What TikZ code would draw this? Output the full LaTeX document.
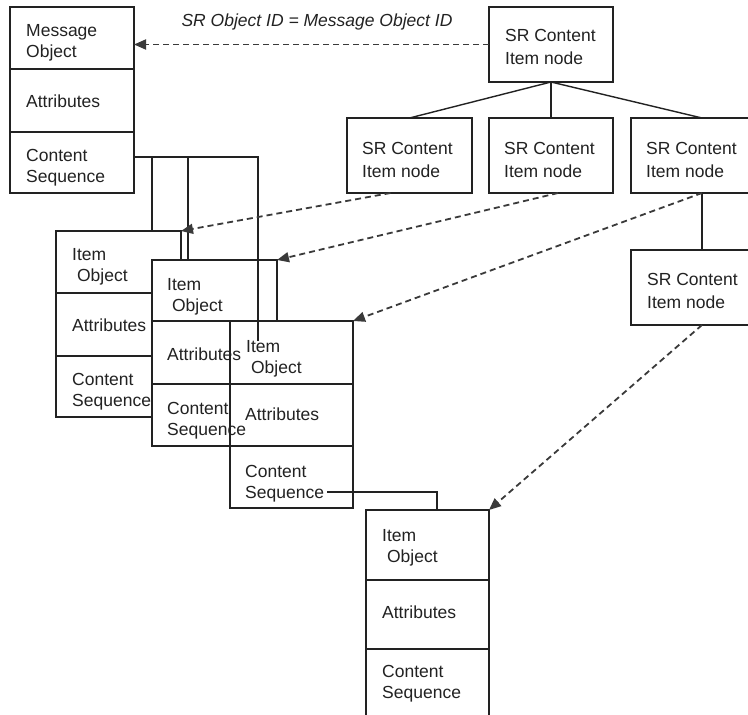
\documentclass[tikz,border=0pt]{standalone}
\usepackage{fontspec}
\setmainfont{Liberation Sans}
\usetikzlibrary{arrows.meta,calc}
\definecolor{ln}{HTML}{222222}
\definecolor{dl}{HTML}{3a3a3a}
\newcommand{\cellbox}[5]{\node[cell, minimum width=#4pt, minimum height=#5pt] (#1) at (#2,#3) {};}
\begin{document}
\begin{tikzpicture}[x=1pt,y=-1pt,
  cell/.style={draw=ln, fill=white, line width=1.4pt, inner sep=0pt, outer sep=0pt, anchor=north west},
  txt/.style={anchor=west, align=left, inner sep=0pt, text=ln, font=\fontsize{17.5}{21}\selectfont},
  srtxt/.style={anchor=west, align=left, inner sep=0pt, text=ln, font=\fontsize{17.5}{23.5}\selectfont},
  conn/.style={draw=ln, line width=1.4pt},
  treeline/.style={draw=ln, line width=1.4pt},
  darr/.style={draw=dl, line width=1.8pt, dash pattern=on 6pt off 4pt, -{Triangle[length=12pt,width=10pt]}}]
\useasboundingbox (0,0) rectangle (748,715);
\clip (0,0) rectangle (748,715);
% Message object
\cellbox{M1}{10}{7}{124}{62}
\cellbox{M2}{10}{69}{124}{63}
\cellbox{M3}{10}{132}{124}{61}
% Item box A
\cellbox{A1}{56}{231}{125}{62}
\cellbox{A2}{56}{293}{125}{63}
\cellbox{A3}{56}{356}{125}{61}
% Item box B
\cellbox{B1}{152}{260}{125}{61}
\cellbox{B2}{152}{321}{125}{63}
\cellbox{B3}{152}{384}{125}{62}
% Item box C
\cellbox{C1}{230}{321}{123}{63}
\cellbox{C2}{230}{384}{123}{62}
\cellbox{C3}{230}{446}{123}{62}
% Item box D
\cellbox{D1}{366}{510}{123}{70}
\cellbox{D2}{366}{580}{123}{69}
\cellbox{D3}{366}{649}{123}{70}
% SR content item nodes
\cellbox{P}{489}{7}{124}{75}
\cellbox{S1}{347}{118}{125}{75}
\cellbox{S2}{489}{118}{124}{75}
\cellbox{S3}{631}{118}{142}{75}
\cellbox{S4}{631}{250}{142}{75}
% texts
\node[txt] (tM1) at (26,43) {Message\\Object};
\node[txt] (tM2) at (26,101) {Attributes};
\node[txt] (tM3) at (26,168) {Content\\Sequence};
\node[txt] (tA1) at (72,267) {Item\\\hspace*{4.9pt}Object};
\node[txt] (tA2) at (72,325) {Attributes};
\node[txt] (tA3) at (72,392) {Content\\Sequence};
\node[txt] (tB1) at (167,297) {Item\\\hspace*{4.9pt}Object};
\node[txt] (tB2) at (167,354) {Attributes};
\node[txt] (tB3) at (167,421) {Content\\Sequence};
\node[txt] (tC1) at (246,359) {Item\\\hspace*{4.9pt}Object};
\node[txt] (tC2) at (245,414) {Attributes};
\node[txt] (tC3) at (245,484) {Content\\Sequence};
\node[txt] (tD1) at (382,548) {Item\\\hspace*{4.9pt}Object};
\node[txt] (tD2) at (382,612) {Attributes};
\node[txt] (tD3) at (382,684) {Content\\Sequence};
\node[srtxt] (tP) at (505,47) {SR Content\\Item node};
\node[srtxt] (tS1) at (362,160) {SR Content\\Item node};
\node[srtxt] (tS2) at (504,160) {SR Content\\Item node};
\node[srtxt] (tS3) at (646,160) {SR Content\\Item node};
\node[srtxt] (tS4) at (647,291) {SR Content\\Item node};
\node[inner sep=0pt, text=ln, font=\fontsize{17.5}{21}\selectfont\itshape] (lbl) at (317,22) {SR Object ID = Message Object ID};
% content sequence connectors
\coordinate (j1) at (152,157);
\coordinate (j2) at (188,157);
\coordinate (jr) at (258,157);
\coordinate (jend) at (258,341);
\draw[conn] (M3.east |- jr) -- (jr) -- (jend);
\draw[conn] (j1) -- (A1.north -| j1);
\draw[conn] (j2) -- (B1.north -| j2);
\coordinate (c3out) at (327,492);
\coordinate (j4) at (437,492);
\draw[conn] (c3out) -- (j4) -- (D1.north -| j4);
% tree
\draw[treeline] (P.south) -- (S1.north);
\draw[treeline] (P.south) -- (S2.north);
\draw[treeline] (P.south) -- (S3.north);
\draw[treeline] (S3.south) -- (S4.north);
% dashed references
\draw[darr] (P.west) -- (P.west -| M1.east);
\draw[darr] ($(S1.south)+(-19,0)$) -- (A1.north east);
\draw[darr] ($(S2.south)+(7,0)$) -- (B1.north east);
\draw[darr] (S3.south) -- (C1.north east);
\draw[darr] (S4.south) -- (D1.north east);
\end{tikzpicture}
\end{document}
